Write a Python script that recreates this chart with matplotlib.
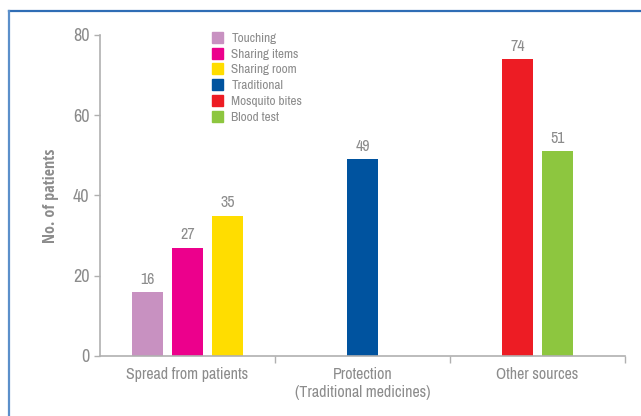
import matplotlib
matplotlib.use('Agg')
import matplotlib.pyplot as plt
from matplotlib.lines import Line2D
from matplotlib.patches import Patch

plt.rcParams['font.family'] = ['Archivo Narrow', 'Liberation Sans Narrow', 'DejaVu Sans']

# data
categories = ['Spread from patients', 'Protection\n(Traditional medicines)', 'Other sources']
series_names = ['Touching', 'Sharing items', 'Sharing room', 'Traditional', 'Mosquito bites', 'Blood test']
series_group = [0, 0, 0, 1, 2, 2]
series_offset = [-0.229, 0.0, 0.229, 0.0, -0.114, 0.114]
series_values = [16, 27, 35, 49, 74, 51]
series_colors = ['#c891c1', '#ec008c', '#ffdd00', '#00539f', '#ed1c24', '#8dc63f']
y_ticks = [0, 20, 40, 60, 80]

gray = '#8c8c8c'
axis_gray = '#b0b0b0'

fig = plt.figure(figsize=(6.41, 4.16), dpi=100)
ax = fig.add_axes([100 / 641, 1 - 356 / 416, 525 / 641, 321 / 416])

bar_w = 0.177
for g, off, v, c in zip(series_group, series_offset, series_values, series_colors):
    ax.bar(g + off, v, width=bar_w, color=c, zorder=2)
    ax.text(g + off, v + 1.3, str(v), ha='center', va='bottom', fontsize=11.5, color=gray)

ax.set_xlim(-0.5, 2.5)
ax.set_ylim(0, 80)
ax.set_yticks(y_ticks)
ax.set_xticks(range(len(categories)))
ax.set_xticklabels(categories, fontsize=11.5, color=gray, linespacing=1.2)
ax.set_xticks([0.5, 1.5, 2.5], minor=True)
ax.tick_params(axis='x', which='major', length=0, pad=8)
ax.tick_params(axis='x', which='minor', length=5, color=axis_gray, width=1)
ax.tick_params(axis='y', length=4, color=axis_gray, labelsize=13, labelcolor=gray, width=1)

for s in ['top', 'right']:
    ax.spines[s].set_visible(False)
for s in ['left', 'bottom']:
    ax.spines[s].set_color(axis_gray)
    ax.spines[s].set_linewidth(1.2)

ax.set_ylabel('No. of patients', fontsize=11.5, color=gray, fontweight='bold', labelpad=10,
              family=['Open Sans Condensed', 'Fira Sans Condensed', 'Archivo Narrow', 'DejaVu Sans'])

handles = [Patch(color=c, label=n) for n, c in zip(series_names, series_colors)]
leg = ax.legend(handles=handles, loc='upper left', bbox_to_anchor=(0.2, 1.03),
                frameon=False, fontsize=9.5, handlelength=0.9, handleheight=0.9,
                handletextpad=0.6, labelspacing=0.28, borderpad=0)
for t in leg.get_texts():
    t.set_color(gray)

# blue frame around the figure
fig.add_artist(Line2D([9 / 641, 1], [1 - 11 / 416] * 2, color='#2f6db5', lw=1.6))
fig.add_artist(Line2D([9 / 641] * 2, [0, 1 - 11 / 416], color='#5b8fca', lw=1.6))

fig.savefig('out.png', dpi=100)
